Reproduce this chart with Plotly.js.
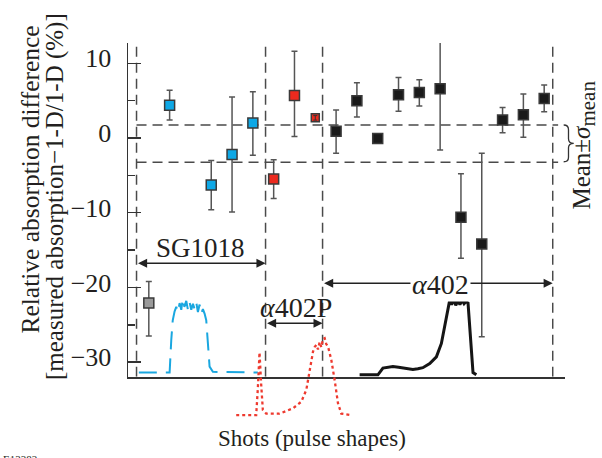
<!DOCTYPE html>
<html>
<head>
<meta charset="utf-8">
<script src="https://cdn.plot.ly/plotly-3.0.1.min.js"></script>
<style>html,body{margin:0;padding:0;background:#fff;}#chart{width:602px;height:458px;}</style>
</head>
<body>
<div id="chart"></div>
<script>
// ---- data (shot index, relative absorption difference %) ----
const grayX = [1];
const grayY = [-22.1];
const grayHi = [-19.2];
const grayLo = [-26.5];

const blueX = [2, 4, 5, 6];
const blueY = [4.4, -6.3, -2.2, 2.0];
const blueHi = [6.4, -3.0, 5.5, 6.2];
const blueLo = [2.4, -9.6, -9.9, -2.3];

const redX = [7, 8, 9];
const redY = [-5.5, 5.7, 2.7];
const redHi = [-2.9, 11.6, 3.0];
const redLo = [-8.1, 0.2, 2.4];

const blackX = [10, 11, 12, 13, 14, 15, 16, 17, 18, 19, 20];
const blackY = [0.9, 5.0, -0.05, 5.8, 6.1, 6.6, -10.6, -14.2, 2.4, 3.1, 5.3];
const blackHi = [3.75, 7.4, -0.05, 8.1, 7.8, 14.8, -4.8, -2.05, 4.1, 5.9, 7.1];
const blackLo = [-2.05, 2.8, -0.05, 3.6, 4.3, -1.6, -16.1, -26.6, 0.7, 0.1, 3.5];

const meanPlusSigma = 1.74;
const meanMinusSigma = -3.25;

// group boundaries (shot index)
const bounds = [0.41, 6.61, 9.35, 20.41];
const groupLabels = ['SG1018', '<i>α</i>402P', '<i>α</i>402'];

// pulse shapes (drawn in shot / % units)
const pulseSGx = [0.52, 2.0, 2.08, 2.15, 2.24, 2.32, 2.4, 2.48, 2.56, 2.63, 2.71, 2.8, 2.88, 2.96, 3.04, 3.12, 3.2, 3.28, 3.36, 3.44, 3.52, 3.6, 3.68, 3.76, 3.84, 3.92, 4.08, 6.24];
const pulseSGy = [-31.4, -31.4, -27.0, -24.4, -23.2, -22.6, -23.3, -22.1, -23.0, -21.5, -22.6, -21.8, -23.0, -22.0, -23.0, -22.2, -22.9, -22.0, -23.3, -22.3, -23.5, -22.9, -23.5, -24.4, -27.5, -30.6, -31.3, -31.4];
const pulsePx = [5.2, 6.16, 6.24, 6.32, 6.4, 6.48, 6.64, 7.28, 7.92, 8.33, 8.57, 8.73, 8.89, 8.97, 9.05, 9.13, 9.21, 9.29, 9.37, 9.45, 9.53, 9.61, 9.77, 9.93, 10.09, 10.25, 10.73];
const pulsePy = [-37.1, -37.1, -33.5, -28.7, -33.0, -36.4, -36.9, -36.9, -36.2, -35.3, -33.7, -31.1, -28.6, -28.0, -27.7, -28.3, -27.3, -28.0, -26.9, -26.8, -27.6, -27.9, -29.7, -32.4, -35.5, -36.9, -37.1];
const pulseAx = [11.13, 12.01, 12.25, 12.5, 12.73, 13.0, 13.21, 13.45, 13.69, 13.93, 14.17, 14.5, 14.82, 15.06, 15.22, 15.38, 15.46, 15.55, 15.65, 15.75, 15.85, 15.95, 16.05, 16.15, 16.25, 16.34, 16.42, 16.5, 16.58, 16.74];
const pulseAy = [-31.7, -31.7, -30.8, -30.7, -30.6, -30.7, -30.8, -30.9, -31.0, -30.9, -30.75, -30.2, -29.3, -27.5, -25.3, -22.6, -21.7, -22.3, -21.6, -22.4, -21.8, -22.3, -21.7, -22.2, -21.9, -22.1, -25.3, -28.8, -31.4, -31.7];

// ---- build ----
const FONT = 'Liberation Serif, Times New Roman, serif';
const TXT = '#231f20';
function pts(x, y, hi, lo, fill, size) {
  return {
    type: 'scatter', mode: 'markers', x: x, y: y, xaxis: 'x', yaxis: 'y',
    marker: {symbol: 'square', size: size, color: fill, opacity: 1, line: {color: '#3a3a3a', width: 1.5}},
    error_y: {type: 'data', symmetric: false,
      array: hi.map((h, i) => h - y[i]), arrayminus: lo.map((l, i) => y[i] - l),
      color: '#555', thickness: 1.5, width: 3},
    hoverinfo: 'x+y'
  };
}
const traces = [
  pts(grayX, grayY, grayHi, grayLo, '#9a9a9a', 10),
  pts(blueX, blueY, blueHi, blueLo, '#0ea8e6', 10),
  pts(redX, redY, redHi, redLo, '#ec2a1e', redX.map((v, i) => i === 2 ? 8 : 10)),
  pts(blackX, blackY, blackHi, blackLo, '#1a1a1a', 10),
  {type: 'scatter', mode: 'lines', x: pulseSGx, y: pulseSGy, xaxis: 'x2', yaxis: 'y2',
   line: {color: '#1aa7e0', width: 2, dash: '18px,9px'}, hoverinfo: 'skip'},
  {type: 'scatter', mode: 'lines', x: pulsePx, y: pulsePy, xaxis: 'x2', yaxis: 'y2',
   line: {color: '#ee3a2f', width: 2.3, dash: 'dot'}, hoverinfo: 'skip'},
  {type: 'scatter', mode: 'lines', x: pulseAx, y: pulseAy, xaxis: 'x2', yaxis: 'y2',
   line: {color: '#151515', width: 3}, hoverinfo: 'skip'}
];
// small error bar visible over the small red marker
traces.push({type: 'scatter', mode: 'markers', x: [redX[2]], y: [redY[2]], xaxis: 'x', yaxis: 'y',
  marker: {size: 1, opacity: 0},
  error_y: {type: 'data', symmetric: false, array: [redHi[2] - redY[2]], arrayminus: [redY[2] - redLo[2]],
    color: '#333', thickness: 1, width: 2}, hoverinfo: 'skip'});

const YMIN = -31.95, YMAX = 12.72;
const dashed = {color: '#4a4a4a', width: 1.5, dash: '10px,6px'};
const shapes = [];
bounds.forEach(b => shapes.push({type: 'line', xref: 'x', yref: 'y', x0: b, x1: b, y0: YMIN, y1: YMAX, line: dashed, layer: 'below'}));
[meanPlusSigma, meanMinusSigma].forEach(v => shapes.push({type: 'line', xref: 'x', yref: 'y', x0: bounds[0], x1: 20.67, y0: v, y1: v, line: dashed, layer: 'below'}));
// brace
shapes.push({type: 'path', xref: 'paper', yref: 'paper', layer: 'above',
  path: 'M0.997,0.7825 Q1.008,0.7825 1.008,0.77 L1.008,0.746 Q1.008,0.734 1.02,0.734 Q1.008,0.734 1.008,0.722 L1.008,0.697 Q1.008,0.685 0.997,0.685',
  line: {color: '#333', width: 1.3}});

const arrowY = [-16.77, -24.8, -19.45];
const annotations = [];
for (let i = 0; i < 3; i++) {
  annotations.push({xref: 'x', yref: 'y', axref: 'x', ayref: 'y', x: bounds[i + 1], y: arrowY[i], ax: bounds[i], ay: arrowY[i],
    text: '', showarrow: true, arrowside: 'end+start', arrowhead: 2, arrowsize: 1.3, arrowwidth: 1.4, arrowcolor: '#222', standoff: 0, startstandoff: 0});
}
const C = {xanchor: 'center', yanchor: 'middle', showarrow: false};
annotations.push(Object.assign({xref: 'x', yref: 'y', x: 3.49, y: -14.7, text: groupLabels[0], font: {family: FONT, size: 27, color: TXT}}, C));
annotations.push(Object.assign({xref: 'x', yref: 'y', x: 8.05, y: -22.7, text: groupLabels[1], font: {family: FONT, size: 28, color: TXT}}, C));
annotations.push(Object.assign({xref: 'x', yref: 'y', x: 15.0, y: -19.6, text: groupLabels[2], bgcolor: '#fff', borderpad: 1, font: {family: FONT, size: 28, color: TXT}}, C));
annotations.push(Object.assign({xref: 'paper', yref: 'paper', x: 1.043, y: 0.73, text: 'Mean±<i>σ</i><sub><span style="font-size:21px">mean</span></sub>', textangle: -90, font: {family: FONT, size: 25, color: TXT}}, C));
annotations.push(Object.assign({xref: 'paper', yref: 'paper', x: -0.224, y: 0.638, text: 'Relative absorption difference', textangle: -90, font: {family: FONT, size: 25.5, color: TXT}}, C));
annotations.push(Object.assign({xref: 'paper', yref: 'paper', x: -0.167, y: 0.5915, text: '[measured absorption−1-D/1-D (%)]', textangle: -90, font: {family: FONT, size: 25, color: TXT}}, C));
annotations.push(Object.assign({xref: 'paper', yref: 'paper', x: 0.42, y: -0.05, text: 'Shots (pulse shapes)', font: {family: FONT, size: 23, color: TXT}}, C));
annotations.push({xref: 'paper', yref: 'paper', x: -0.29, y: -0.083, xanchor: 'left', yanchor: 'top', text: 'E13382', showarrow: false, font: {family: FONT, size: 11, color: TXT}});

const layout = {
  width: 602, height: 458,
  margin: {l: 128, r: 37, t: 43, b: 38, pad: 0},
  paper_bgcolor: '#fff', plot_bgcolor: 'rgba(0,0,0,0)',
  showlegend: false,
  xaxis: {domain: [0, 1], range: [0, 21], anchor: 'y', showline: true, linecolor: '#333', linewidth: 2,
    showticklabels: false, ticks: '', showgrid: false, zeroline: false},
  yaxis: {domain: [0.1149, 1], range: [YMIN, YMAX], anchor: 'x', showline: true, linecolor: '#333', linewidth: 1.5,
    ticks: 'inside', ticklen: 13, tickwidth: 1.5, tickcolor: '#333', tick0: 0, dtick: 10,
    minor: {dtick: 5, ticks: 'inside', ticklen: 7, tickwidth: 1.5, tickcolor: '#333', showgrid: false},
    showgrid: false, zeroline: false, ticklabelstandoff: 10, ticklabelshift: -5,
    tickfont: {family: FONT, size: 26, color: TXT}},
  xaxis2: {domain: [0, 1], range: [0, 21], anchor: 'y2', visible: false},
  yaxis2: {domain: [0, 1], range: [-37.75, YMAX], anchor: 'x2', visible: false},
  shapes: shapes,
  annotations: annotations,
  font: {family: FONT, color: TXT}
};
Plotly.newPlot('chart', traces, layout, {staticPlot: true, displayModeBar: false});
</script>
</body>
</html>
